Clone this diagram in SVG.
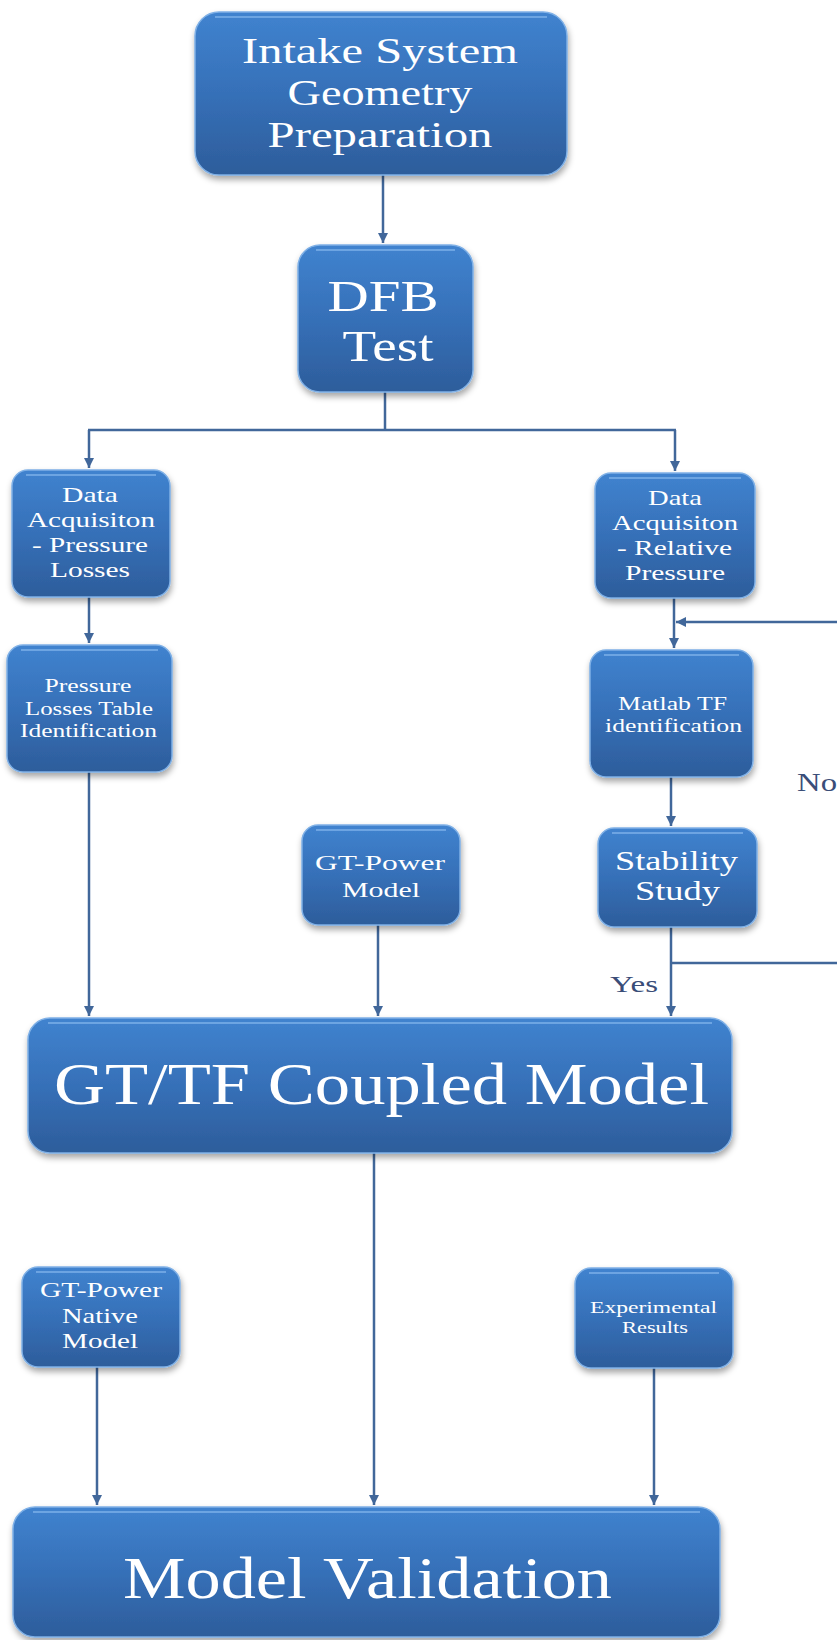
<svg xmlns="http://www.w3.org/2000/svg" width="837" height="1640" viewBox="0 0 837 1640">
<defs>
<linearGradient id="g" x1="0" y1="0" x2="0" y2="1">
<stop offset="0" stop-color="#4083cf"/>
<stop offset="0.5" stop-color="#3670b8"/>
<stop offset="1" stop-color="#2d5d9b"/>
</linearGradient>
<filter id="sh" x="-10%" y="-10%" width="120%" height="130%">
<feDropShadow dx="1" dy="4" stdDeviation="3" flood-color="#000" flood-opacity="0.35"/>
</filter>
<marker id="ah" markerUnits="userSpaceOnUse" markerWidth="12" markerHeight="10" refX="10" refY="5" orient="auto">
<path d="M0,0 L10,5 L0,10 Z" fill="#41679a"/>
</marker>
</defs>
<style>
.box{fill:url(#g);stroke:#7fb0e6;stroke-width:1.5;filter:url(#sh)}
.hl{fill:none;stroke:#8cbdf0;stroke-width:2;stroke-opacity:0.6}
.t{font-family:"Liberation Serif","Times New Roman",serif;fill:#ffffff;text-anchor:middle}
.c{fill:none;stroke:#41679a;stroke-width:2.5}
.lbl{font-family:"Liberation Serif","Times New Roman",serif;fill:#3a4d78}
</style>
<rect width="837" height="1640" fill="#ffffff"/>

<g id="connectors">
<path class="c" d="M383,175 V243" marker-end="url(#ah)"/>
<path class="c" d="M385,392 V430"/>
<path class="c" d="M88,430 H676"/>
<path class="c" d="M89,430 V468" marker-end="url(#ah)"/>
<path class="c" d="M675,430 V471" marker-end="url(#ah)"/>
<path class="c" d="M89,597 V643" marker-end="url(#ah)"/>
<path class="c" d="M674,598 V648" marker-end="url(#ah)"/>
<path class="c" d="M837,622 H676" marker-end="url(#ah)"/>
<path class="c" d="M671,777 V826" marker-end="url(#ah)"/>
<path class="c" d="M671,927 V1016" marker-end="url(#ah)"/>
<path class="c" d="M671,963 H837"/>
<path class="c" d="M89,772 V1016" marker-end="url(#ah)"/>
<path class="c" d="M378,925 V1016" marker-end="url(#ah)"/>
<path class="c" d="M374,1153 V1505" marker-end="url(#ah)"/>
<path class="c" d="M97,1367 V1505" marker-end="url(#ah)"/>
<path class="c" d="M654,1368 V1505" marker-end="url(#ah)"/>
<text class="lbl" x="797" y="791" font-size="25" textLength="40" lengthAdjust="spacingAndGlyphs">No</text>
<text class="lbl" x="610" y="992" font-size="24" textLength="48" lengthAdjust="spacingAndGlyphs">Yes</text>
</g>

<g id="n1">
<rect class="box" x="195" y="12" width="372" height="163" rx="24"/>
<path class="hl" d="M215,17 H547"/>
<text class="t" font-size="36" x="380" y="63" textLength="276" lengthAdjust="spacingAndGlyphs">Intake System</text>
<text class="t" font-size="36" x="380" y="105" textLength="185" lengthAdjust="spacingAndGlyphs">Geometry</text>
<text class="t" font-size="36" x="380" y="147" textLength="225" lengthAdjust="spacingAndGlyphs">Preparation</text>
</g>

<g id="n2">
<rect class="box" x="298" y="245" width="175" height="147" rx="22"/>
<path class="hl" d="M316,250 H455"/>
<text class="t" font-size="44" x="383" y="311" textLength="111" lengthAdjust="spacingAndGlyphs">DFB</text>
<text class="t" font-size="44" x="388" y="361" textLength="91" lengthAdjust="spacingAndGlyphs">Test</text>
</g>

<g id="n3">
<rect class="box" x="12" y="470" width="158" height="127" rx="16"/>
<path class="hl" d="M26,475 H156"/>
<text class="t" font-size="22" x="90" y="502" textLength="56" lengthAdjust="spacingAndGlyphs">Data</text>
<text class="t" font-size="22" x="91" y="527" textLength="128" lengthAdjust="spacingAndGlyphs">Acquisiton</text>
<text class="t" font-size="22" x="90" y="552" textLength="116" lengthAdjust="spacingAndGlyphs">- Pressure</text>
<text class="t" font-size="22" x="90" y="577" textLength="80" lengthAdjust="spacingAndGlyphs">Losses</text>
</g>

<g id="n4">
<rect class="box" x="7" y="645" width="165" height="127" rx="16"/>
<path class="hl" d="M21,650 H158"/>
<text class="t" font-size="19" x="88" y="692" textLength="87" lengthAdjust="spacingAndGlyphs">Pressure</text>
<text class="t" font-size="19" x="89" y="715" textLength="128" lengthAdjust="spacingAndGlyphs">Losses Table</text>
<text class="t" font-size="19" x="88.5" y="737" textLength="137" lengthAdjust="spacingAndGlyphs">Identification</text>
</g>

<g id="n5">
<rect class="box" x="595" y="473" width="160" height="125" rx="16"/>
<path class="hl" d="M609,478 H741"/>
<text class="t" font-size="22" x="675" y="505" textLength="54" lengthAdjust="spacingAndGlyphs">Data</text>
<text class="t" font-size="22" x="675" y="530" textLength="126" lengthAdjust="spacingAndGlyphs">Acquisiton</text>
<text class="t" font-size="22" x="674.5" y="555" textLength="115" lengthAdjust="spacingAndGlyphs">- Relative</text>
<text class="t" font-size="22" x="675" y="580" textLength="100" lengthAdjust="spacingAndGlyphs">Pressure</text>
</g>

<g id="n6">
<rect class="box" x="590" y="650" width="163" height="127" rx="16"/>
<path class="hl" d="M604,655 H739"/>
<text class="t" font-size="19" x="672.5" y="710" textLength="109" lengthAdjust="spacingAndGlyphs">Matlab TF</text>
<text class="t" font-size="19" x="673.5" y="732" textLength="137" lengthAdjust="spacingAndGlyphs">identification</text>
</g>

<g id="n7">
<rect class="box" x="598" y="828" width="159" height="99" rx="16"/>
<path class="hl" d="M612,833 H743"/>
<text class="t" font-size="27" x="676.5" y="870" textLength="123" lengthAdjust="spacingAndGlyphs">Stability</text>
<text class="t" font-size="27" x="677.5" y="900" textLength="85" lengthAdjust="spacingAndGlyphs">Study</text>
</g>

<g id="n8">
<rect class="box" x="302" y="825" width="158" height="100" rx="16"/>
<path class="hl" d="M316,830 H446"/>
<text class="t" font-size="22" x="380" y="870" textLength="130" lengthAdjust="spacingAndGlyphs">GT-Power</text>
<text class="t" font-size="22" x="381" y="897" textLength="78" lengthAdjust="spacingAndGlyphs">Model</text>
</g>

<g id="n9">
<rect class="box" x="28" y="1018" width="704" height="135" rx="22"/>
<path class="hl" d="M48,1023 H712"/>
<text class="t" font-size="60" x="381.5" y="1104" textLength="655" lengthAdjust="spacingAndGlyphs">GT/TF Coupled Model</text>
</g>

<g id="n10">
<rect class="box" x="22" y="1267" width="158" height="100" rx="16"/>
<path class="hl" d="M36,1272 H166"/>
<text class="t" font-size="22" x="101" y="1297" textLength="122" lengthAdjust="spacingAndGlyphs">GT-Power</text>
<text class="t" font-size="22" x="100" y="1323" textLength="76" lengthAdjust="spacingAndGlyphs">Native</text>
<text class="t" font-size="22" x="100" y="1348" textLength="76" lengthAdjust="spacingAndGlyphs">Model</text>
</g>

<g id="n11">
<rect class="box" x="575" y="1268" width="158" height="100" rx="16"/>
<path class="hl" d="M589,1273 H719"/>
<text class="t" font-size="17" x="653.5" y="1313" textLength="127" lengthAdjust="spacingAndGlyphs">Experimental</text>
<text class="t" font-size="17" x="655" y="1333" textLength="66" lengthAdjust="spacingAndGlyphs">Results</text>
</g>

<g id="n12">
<rect class="box" x="13" y="1507" width="707" height="130" rx="22"/>
<path class="hl" d="M33,1512 H700"/>
<text class="t" font-size="60" x="367.5" y="1598" textLength="489" lengthAdjust="spacingAndGlyphs">Model Validation</text>
</g>
</svg>
